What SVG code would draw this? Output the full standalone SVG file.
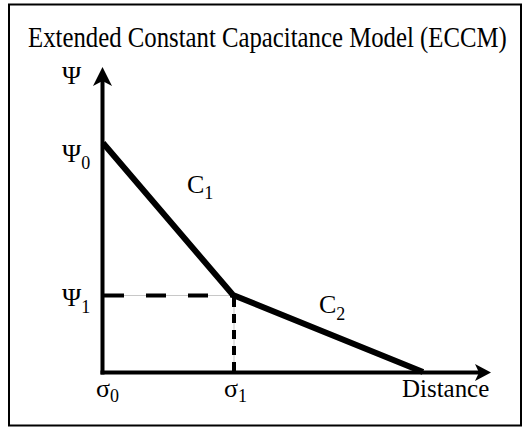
<svg xmlns="http://www.w3.org/2000/svg" width="529" height="428" viewBox="0 0 529 428">
<style>
text{font-family:"Liberation Serif","Times New Roman",serif;fill:#000}
.lbl{font-size:26px}
.sub{font-size:18px}
.axis{stroke:#000;stroke-width:4;fill:none}
.curve{stroke:#000;stroke-width:6;fill:none;stroke-linejoin:miter}
.guide{stroke:#c8c8c8;stroke-width:1}
.dash{stroke:#000;stroke-width:4}
</style>
<rect x="0" y="0" width="529" height="428" fill="#fff"/>
<rect id="frame" x="9" y="4.5" width="512" height="421" fill="none" stroke="#000" stroke-width="2"/>
<g id="title"><text transform="translate(28,47) scale(0.826,1)" x="0" y="0" font-size="30">Extended Constant Capacitance Model (ECCM)</text></g>
<g id="connectors">
<line class="guide" x1="104" y1="295.5" x2="233" y2="295.5"/>
<line class="guide" x1="234" y1="296" x2="234" y2="372"/>
<line class="dash" x1="104" y1="295.5" x2="233" y2="295.5" stroke-dasharray="20 22"/>
<line class="dash" x1="234" y1="298" x2="234" y2="372" stroke-dasharray="9 7"/>
<line class="axis" x1="102.5" y1="80" x2="102.5" y2="374.5"/>
<line class="axis" x1="100.5" y1="372.5" x2="480" y2="372.5"/>
<path d="M102.5 67 L112 86 L102.5 81 L93 86 Z" fill="#000"/>
<path d="M491 372.5 L475 381 L479 372.5 L475 364 Z" fill="#000"/>
<polyline class="curve" points="103,143 233,295 423,372"/>
</g>
<g id="labels">
<text class="lbl" x="62" y="84">Ψ</text>
<text class="lbl" x="62" y="162">Ψ<tspan class="sub" dy="7">0</tspan></text>
<text class="lbl" x="62" y="306">Ψ<tspan class="sub" dy="7">1</tspan></text>
<text class="lbl" x="187" y="193" font-size="24">C<tspan class="sub" dy="6">1</tspan></text>
<text class="lbl" x="319" y="313" font-size="24">C<tspan class="sub" dy="7">2</tspan></text>
<text class="lbl" x="96" y="397">σ<tspan class="sub" dy="5">0</tspan></text>
<text class="lbl" x="224" y="397">σ<tspan class="sub" dy="5">1</tspan></text>
<text transform="translate(402,397) scale(0.96,1)" x="0" y="0" font-size="26">Distance</text>
</g>
</svg>
